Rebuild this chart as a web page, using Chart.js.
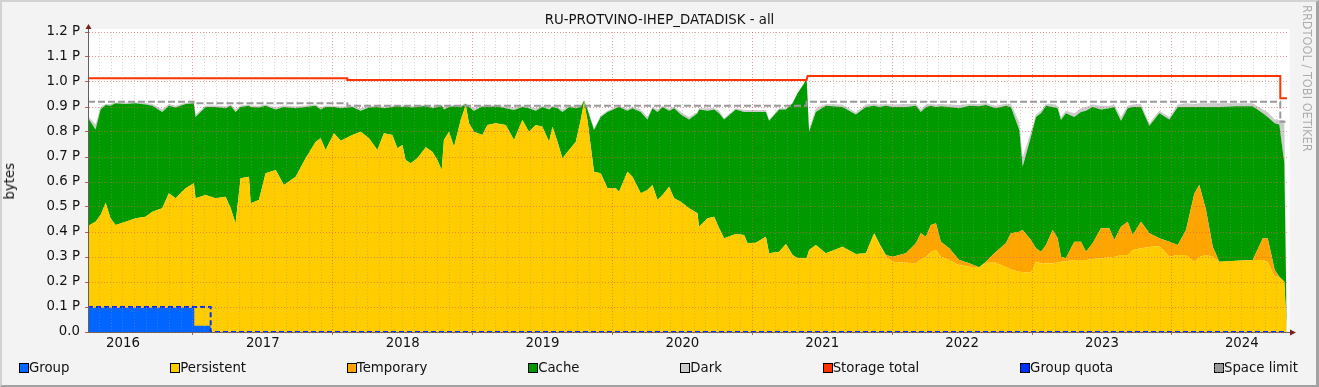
<!DOCTYPE html>
<html lang="en">
<head>
  <meta charset="UTF-8">
  <title>RU-PROTVINO-IHEP_DATADISK - all</title>
  <script src="https://cdn.jsdelivr.net/npm/chart.js"></script>
  <style>
    body {
      margin: 0;
      background: #f3f3f3;
      font-family: "DejaVu Sans", sans-serif;
    }
    #wrap {
      position: relative;
      width: 1319px;
      height: 387px;
      overflow: hidden;
    }
    #wrap canvas {
      position: absolute;
      left: 0;
      top: 0;
    }
    #frame {
      position: absolute;
      left: 0;
      top: 0;
      width: 1319px;
      height: 387px;
      box-sizing: border-box;
      border-top: 2px solid #d2d2d2;
      border-left: 2px solid #d2d2d2;
      border-right: 3px solid #a2a2a2;
      border-bottom: 2px solid #a2a2a2;
      pointer-events: none;
    }
    #title {
      position: absolute;
      top: 12px;
      left: 0;
      width: 1319px;
      text-align: center;
      font-size: 13.3px;
      line-height: 16px;
      color: #111;
    }
    #ylabel {
      position: absolute;
      left: 3px;
      top: 163px;
      writing-mode: vertical-rl;
      transform: rotate(180deg);
      font-size: 13.3px;
      line-height: 14px;
      color: #111;
    }
    #watermark {
      position: absolute;
      left: 1301px;
      top: 5px;
      writing-mode: vertical-rl;
      font-size: 11.4px;
      line-height: 12px;
      color: #ababab;
    }
    #legend {
      position: absolute;
      left: 19px;
      width: 1279px;
      top: 361px;
      display: flex;
      justify-content: space-between;
      font-size: 13.3px;
      line-height: 14px;
      color: #111;
    }
    .item {
      display: flex;
      align-items: center;
    }
    .box {
      display: inline-block;
      width: 8px;
      height: 8px;
      border: 1px solid #000;
    }
  </style>
</head>
<body>
  <div id="wrap">
    <canvas id="chart" width="1319" height="387"></canvas>
    <div id="title">RU-PROTVINO-IHEP_DATADISK - all</div>
    <div id="ylabel">bytes</div>
    <div id="watermark">RRDTOOL / TOBI OETIKER</div>
    <div id="legend"></div>
    <div id="frame"></div>
  </div>

  <script>
    // sample times as decimal years
    const years = [
      2016.252, 2016.304, 2016.340, 2016.376, 2016.411, 2016.447, 2016.519, 2016.590, 2016.662, 2016.710,
      2016.781, 2016.828, 2016.876, 2016.948, 2017.007, 2017.019, 2017.091, 2017.162, 2017.234, 2017.270,
      2017.305, 2017.341, 2017.401, 2017.413, 2017.472, 2017.520, 2017.592, 2017.651, 2017.735, 2017.806,
      2017.878, 2017.913, 2017.949, 2018.009, 2018.057, 2018.140, 2018.200, 2018.259, 2018.319, 2018.366,
      2018.426, 2018.462, 2018.498, 2018.521, 2018.557, 2018.605, 2018.665, 2018.712, 2018.748, 2018.779,
      2018.795, 2018.831, 2018.867, 2018.915, 2018.951, 2018.974, 2019.010, 2019.070, 2019.106, 2019.165,
      2019.237, 2019.296, 2019.356, 2019.403, 2019.451, 2019.499, 2019.547, 2019.571, 2019.607, 2019.642,
      2019.690, 2019.738, 2019.773, 2019.797, 2019.821, 2019.868, 2019.916, 2019.964, 2020.024, 2020.047,
      2020.107, 2020.143, 2020.202, 2020.250, 2020.286, 2020.322, 2020.358, 2020.405, 2020.441, 2020.489,
      2020.548, 2020.608, 2020.619, 2020.680, 2020.727, 2020.763, 2020.798, 2020.882, 2020.941, 2020.966,
      2021.025, 2021.097, 2021.120, 2021.192, 2021.240, 2021.288, 2021.323, 2021.371, 2021.388, 2021.406,
      2021.454, 2021.526, 2021.645, 2021.740, 2021.812, 2021.871, 2021.907, 2021.955, 2022.003, 2022.098,
      2022.170, 2022.205, 2022.241, 2022.277, 2022.313, 2022.348, 2022.408, 2022.479, 2022.551, 2022.622,
      2022.670, 2022.742, 2022.813, 2022.849, 2022.909, 2022.933, 2022.992, 2023.028, 2023.064, 2023.100,
      2023.147, 2023.183, 2023.207, 2023.242, 2023.302, 2023.350, 2023.386, 2023.433, 2023.493, 2023.552,
      2023.588, 2023.636, 2023.684, 2023.720, 2023.779, 2023.839, 2023.910, 2023.982, 2024.042, 2024.101,
      2024.161, 2024.196, 2024.244, 2024.292, 2024.339, 2024.459, 2024.578, 2024.650, 2024.685, 2024.735,
      2024.768, 2024.804, 2024.821
    ];

    // stacked tops in PB (persistent, +temporary, +cache, +dark)
    const persistent = [
      0.425, 0.441, 0.468, 0.517, 0.455, 0.428, 0.441, 0.455, 0.461, 0.481,
      0.495, 0.555, 0.535, 0.575, 0.595, 0.535, 0.548, 0.535, 0.541, 0.495,
      0.435, 0.615, 0.621, 0.515, 0.528, 0.635, 0.648, 0.588, 0.621, 0.695,
      0.761, 0.775, 0.728, 0.795, 0.765, 0.788, 0.801, 0.775, 0.728, 0.795,
      0.788, 0.735, 0.748, 0.688, 0.675, 0.695, 0.739, 0.721, 0.688, 0.648,
      0.768, 0.801, 0.741, 0.848, 0.908, 0.835, 0.801, 0.788, 0.828, 0.835,
      0.828, 0.768, 0.848, 0.801, 0.828, 0.821, 0.761, 0.821, 0.761, 0.695,
      0.728, 0.761, 0.848, 0.921, 0.848, 0.641, 0.635, 0.575, 0.575, 0.561,
      0.641, 0.621, 0.555, 0.568, 0.588, 0.528, 0.548, 0.581, 0.535, 0.521,
      0.495, 0.475, 0.421, 0.455, 0.461, 0.415, 0.375, 0.392, 0.388, 0.355,
      0.357, 0.381, 0.315, 0.321, 0.352, 0.308, 0.295, 0.295, 0.295, 0.328,
      0.348, 0.315, 0.341, 0.312, 0.315, 0.395, 0.355, 0.300, 0.281, 0.277,
      0.275, 0.290, 0.300, 0.320, 0.328, 0.301, 0.288, 0.268, 0.261, 0.259,
      0.277, 0.277, 0.260, 0.250, 0.241, 0.240, 0.237, 0.281, 0.275, 0.275,
      0.275, 0.278, 0.281, 0.283, 0.288, 0.288, 0.288, 0.292, 0.295, 0.299,
      0.300, 0.308, 0.308, 0.328, 0.335, 0.340, 0.344, 0.301, 0.308, 0.308,
      0.281, 0.300, 0.308, 0.301, 0.281, 0.285, 0.288, 0.288, 0.280, 0.221,
      0.221, 0.201, 0.010
    ];
    const temporaryTop = [
      0.425, 0.441, 0.468, 0.517, 0.455, 0.428, 0.441, 0.455, 0.461, 0.481,
      0.495, 0.555, 0.535, 0.575, 0.595, 0.535, 0.548, 0.535, 0.541, 0.495,
      0.435, 0.615, 0.621, 0.515, 0.528, 0.635, 0.648, 0.588, 0.621, 0.695,
      0.761, 0.775, 0.728, 0.795, 0.765, 0.788, 0.801, 0.775, 0.728, 0.795,
      0.788, 0.735, 0.748, 0.688, 0.675, 0.695, 0.739, 0.721, 0.688, 0.648,
      0.768, 0.801, 0.741, 0.848, 0.908, 0.835, 0.801, 0.788, 0.828, 0.835,
      0.828, 0.768, 0.848, 0.801, 0.828, 0.821, 0.761, 0.821, 0.761, 0.695,
      0.728, 0.761, 0.848, 0.921, 0.848, 0.641, 0.635, 0.575, 0.575, 0.561,
      0.641, 0.621, 0.555, 0.568, 0.588, 0.528, 0.548, 0.581, 0.535, 0.521,
      0.495, 0.475, 0.421, 0.455, 0.461, 0.415, 0.375, 0.392, 0.388, 0.355,
      0.357, 0.381, 0.315, 0.321, 0.352, 0.308, 0.295, 0.295, 0.295, 0.328,
      0.348, 0.315, 0.341, 0.312, 0.315, 0.395, 0.355, 0.308, 0.301, 0.315,
      0.355, 0.395, 0.381, 0.428, 0.435, 0.361, 0.335, 0.288, 0.275, 0.259,
      0.281, 0.321, 0.355, 0.395, 0.401, 0.408, 0.368, 0.335, 0.321, 0.348,
      0.408, 0.375, 0.301, 0.295, 0.361, 0.361, 0.321, 0.355, 0.415, 0.415,
      0.368, 0.421, 0.441, 0.388, 0.441, 0.395, 0.375, 0.361, 0.348, 0.408,
      0.555, 0.588, 0.488, 0.341, 0.281, 0.285, 0.288, 0.375, 0.375, 0.248,
      0.221, 0.201, 0.010
    ];
    const cacheTop = [
      0.855, 0.810, 0.890, 0.908, 0.905, 0.915, 0.912, 0.915, 0.910, 0.905,
      0.880, 0.905, 0.898, 0.912, 0.915, 0.860, 0.900, 0.900, 0.895, 0.905,
      0.880, 0.900, 0.905, 0.900, 0.898, 0.905, 0.890, 0.900, 0.895, 0.900,
      0.905, 0.890, 0.900, 0.900, 0.895, 0.900, 0.885, 0.898, 0.900, 0.895,
      0.900, 0.905, 0.900, 0.905, 0.898, 0.900, 0.905, 0.895, 0.900, 0.905,
      0.890, 0.900, 0.903, 0.900, 0.912, 0.900, 0.885, 0.902, 0.900, 0.903,
      0.895, 0.888, 0.900, 0.895, 0.885, 0.900, 0.890, 0.900, 0.895, 0.880,
      0.900, 0.895, 0.900, 0.925, 0.890, 0.808, 0.860, 0.880, 0.895, 0.900,
      0.885, 0.895, 0.880, 0.850, 0.895, 0.880, 0.900, 0.885, 0.895, 0.870,
      0.850, 0.875, 0.890, 0.885, 0.890, 0.875, 0.850, 0.890, 0.880, 0.880,
      0.880, 0.880, 0.845, 0.890, 0.890, 0.915, 0.955, 0.995, 1.020, 0.801,
      0.880, 0.905, 0.900, 0.870, 0.900, 0.905, 0.900, 0.905, 0.900, 0.900,
      0.905, 0.880, 0.900, 0.905, 0.900, 0.903, 0.900, 0.895, 0.905, 0.903,
      0.908, 0.895, 0.905, 0.900, 0.808, 0.661, 0.781, 0.860, 0.875, 0.905,
      0.900, 0.895, 0.848, 0.875, 0.860, 0.880, 0.885, 0.900, 0.890, 0.895,
      0.900, 0.845, 0.895, 0.900, 0.900, 0.825, 0.875, 0.850, 0.900, 0.900,
      0.900, 0.900, 0.900, 0.900, 0.900, 0.903, 0.903, 0.875, 0.860, 0.835,
      0.830, 0.675, 0.020
    ];
    const darkTop = [
      0.862, 0.830, 0.900, 0.912, 0.912, 0.918, 0.918, 0.919, 0.916, 0.912,
      0.890, 0.912, 0.905, 0.917, 0.918, 0.870, 0.906, 0.906, 0.903, 0.910,
      0.890, 0.906, 0.910, 0.906, 0.905, 0.910, 0.898, 0.906, 0.903, 0.906,
      0.910, 0.898, 0.906, 0.905, 0.902, 0.905, 0.895, 0.904, 0.905, 0.902,
      0.905, 0.908, 0.905, 0.908, 0.904, 0.905, 0.908, 0.902, 0.905, 0.908,
      0.898, 0.905, 0.907, 0.905, 0.915, 0.905, 0.895, 0.906, 0.905, 0.907,
      0.902, 0.898, 0.905, 0.902, 0.895, 0.905, 0.898, 0.905, 0.902, 0.890,
      0.905, 0.902, 0.905, 0.928, 0.898, 0.815, 0.866, 0.885, 0.900, 0.905,
      0.893, 0.902, 0.890, 0.860, 0.900, 0.890, 0.905, 0.893, 0.902, 0.880,
      0.860, 0.880, 0.895, 0.895, 0.895, 0.885, 0.855, 0.895, 0.888, 0.888,
      0.888, 0.888, 0.850, 0.895, 0.895, 0.917, 0.956, 0.996, 1.021, 0.810,
      0.895, 0.912, 0.910, 0.878, 0.910, 0.912, 0.910, 0.912, 0.910, 0.912,
      0.912, 0.890, 0.910, 0.912, 0.910, 0.912, 0.910, 0.908, 0.912, 0.912,
      0.915, 0.905, 0.913, 0.912, 0.840, 0.700, 0.800, 0.870, 0.885, 0.912,
      0.912, 0.905, 0.860, 0.885, 0.875, 0.895, 0.900, 0.910, 0.905, 0.905,
      0.910, 0.860, 0.905, 0.910, 0.912, 0.835, 0.885, 0.860, 0.910, 0.915,
      0.912, 0.915, 0.915, 0.915, 0.915, 0.915, 0.915, 0.890, 0.880, 0.850,
      0.848, 0.848, 0.030
    ];

    // group usage and quota
    const groupYears = [2016.25, 2017.01, 2017.01, 2017.127, 2017.127, 2024.82];
    const groupUsed = [0.097, 0.097, 0.025, 0.025, 0, 0];
    const quotaYears = [2016.25, 2017.127, 2017.127, 2024.82];
    const groupQuota = [0.1, 0.1, 0, 0];

    // storage total and space limit (step lines)
    const totalYears = [2016.25, 2018.104, 2018.104, 2021.388, 2021.395, 2024.775, 2024.775, 2024.83];
    const storageTotal = [1.015, 1.015, 1.008, 1.008, 1.024, 1.024, 0.935, 0.935];
    const limitYears = [2016.25, 2017.005, 2017.005, 2018.104, 2018.104, 2021.388, 2021.388, 2024.775, 2024.775, 2024.812];
    const spaceLimit = [0.921, 0.921, 0.915, 0.915, 0.905, 0.905, 0.921, 0.921, 0.841, 0.841];

    const yTicks = [0, 0.1, 0.2, 0.3, 0.4, 0.5, 0.6, 0.7, 0.8, 0.9, 1.0, 1.1, 1.2];

    const pts = (xs, ys) => xs.map((x, i) => ({ x: x, y: ys[i] }));

    function area(label, color, xs, ys, fill) {
      return {
        label: label,
        data: pts(xs, ys),
        backgroundColor: color,
        borderColor: color,
        borderWidth: 0,
        pointRadius: 0,
        fill: fill,
        legendColor: color
      };
    }

    function line(label, color, xs, ys, dash) {
      return {
        label: label,
        data: pts(xs, ys),
        borderColor: color,
        backgroundColor: color,
        borderWidth: 2,
        borderDash: dash,
        pointRadius: 0,
        fill: false,
        order: -1,
        legendColor: color,
        legendDash: dash.length > 0
      };
    }

    const isYear = (v) => Math.abs(v - Math.round(v)) < 1e-6;

    // white plot background + axis arrows
    const rrdFrame = {
      id: 'rrdFrame',
      beforeDraw(chart) {
        const { ctx, chartArea: a } = chart;
        ctx.save();
        ctx.fillStyle = '#ffffff';
        ctx.fillRect(a.left, a.top - 3, a.right - a.left + 3, a.bottom - a.top + 3);
        ctx.restore();
      },
      afterDraw(chart) {
        const { ctx, chartArea: a } = chart;
        const x0 = Math.round(a.left) + 0.5;
        const yb = Math.round(a.bottom) + 0.5;
        ctx.save();
        ctx.strokeStyle = '#606060';
        ctx.lineWidth = 1;
        ctx.beginPath();
        ctx.moveTo(x0, a.top);
        ctx.lineTo(x0, a.top - 4);
        ctx.moveTo(a.right, yb);
        ctx.lineTo(a.right + 4, yb);
        ctx.stroke();
        ctx.fillStyle = '#7a1f1f';
        ctx.beginPath();
        ctx.moveTo(x0 - 3, a.top - 3);
        ctx.lineTo(x0 + 3, a.top - 3);
        ctx.lineTo(x0, a.top - 8);
        ctx.closePath();
        ctx.fill();
        ctx.beginPath();
        ctx.moveTo(a.right + 3, yb - 3);
        ctx.lineTo(a.right + 3, yb + 3);
        ctx.lineTo(a.right + 9, yb);
        ctx.closePath();
        ctx.fill();
        ctx.restore();
      }
    };

    const tickFont = { family: 'DejaVu Sans', size: 13.3 };

    const chart = new Chart(document.getElementById('chart'), {
      type: 'line',
      data: {
        datasets: [
          area('Group', '#0066ff', groupYears, groupUsed, 'origin'),
          area('Persistent', '#ffcc00', years, persistent, 'origin'),
          area('Temporary', '#ffa500', years, temporaryTop, '-1'),
          area('Cache', '#009900', years, cacheTop, '-1'),
          area('Dark', '#cccccc', years, darkTop, '-1'),
          line('Storage total', '#ff3300', totalYears, storageTotal, []),
          line('Group quota', '#0030ff', quotaYears, groupQuota, [5, 3]),
          line('Space limit', '#999999', limitYears, spaceLimit, [7, 3])
        ]
      },
      options: {
        responsive: false,
        animation: false,
        layout: { padding: { top: 32, right: 32, bottom: 0, left: 0 } },
        plugins: {
          legend: { display: false },
          tooltip: { enabled: false }
        },
        elements: { line: { tension: 0 } },
        scales: {
          x: {
            type: 'linear',
            min: 2016.25,
            max: 2024.823,
            afterFit: (s) => { s.height = 55; },
            afterBuildTicks: (s) => {
              const t = [];
              for (let m = 2016 * 12 + 3; m <= 2024 * 12 + 9; m++) t.push({ value: m / 12 });
              s.ticks = t;
            },
            grid: {
              z: 1,
              lineWidth: 1,
              tickLength: 3,
              color: (c) => isYear(c.tick.value) ? 'rgba(222, 90, 90, 0.6)' : 'rgba(150, 150, 150, 0.4)',
              tickColor: (c) => isYear(c.tick.value) ? '#b06060' : 'rgba(0,0,0,0)'
            },
            border: { z: 1, color: '#606060', width: 1, dash: [1, 2] },
            ticks: {
              autoSkip: false,
              maxRotation: 0,
              padding: 1,
              color: '#111',
              font: tickFont,
              callback: (v) => {
                const f = v - Math.floor(v);
                return Math.abs(f - 0.5) < 1e-6 ? String(Math.floor(v)) : '';
              }
            }
          },
          y: {
            min: 0,
            max: 1.2,
            afterFit: (s) => { s.width = 88; },
            afterBuildTicks: (s) => { s.ticks = yTicks.map((v) => ({ value: v })); },
            grid: {
              z: 1,
              lineWidth: 1,
              tickLength: 3,
              color: 'rgba(222, 90, 90, 0.6)',
              tickColor: '#b06060'
            },
            border: { z: 1, color: '#606060', width: 1, dash: [1, 2] },
            ticks: {
              padding: 5,
              color: '#111',
              font: tickFont,
              callback: (v) => v === 0 ? '0.0' : v.toFixed(1) + ' P'
            }
          }
        }
      },
      plugins: [rrdFrame]
    });

    // rrdtool style legend row
    const legendEl = document.getElementById('legend');
    chart.data.datasets.forEach((ds) => {
      const item = document.createElement('div');
      item.className = 'item';
      const box = document.createElement('span');
      box.className = 'box';
      box.style.background = ds.legendColor;
      if (ds.legendDash) box.style.borderStyle = 'dashed';
      const txt = document.createElement('span');
      txt.textContent = ds.label;
      item.appendChild(box);
      item.appendChild(txt);
      legendEl.appendChild(item);
    });
  </script>
</body>
</html>
